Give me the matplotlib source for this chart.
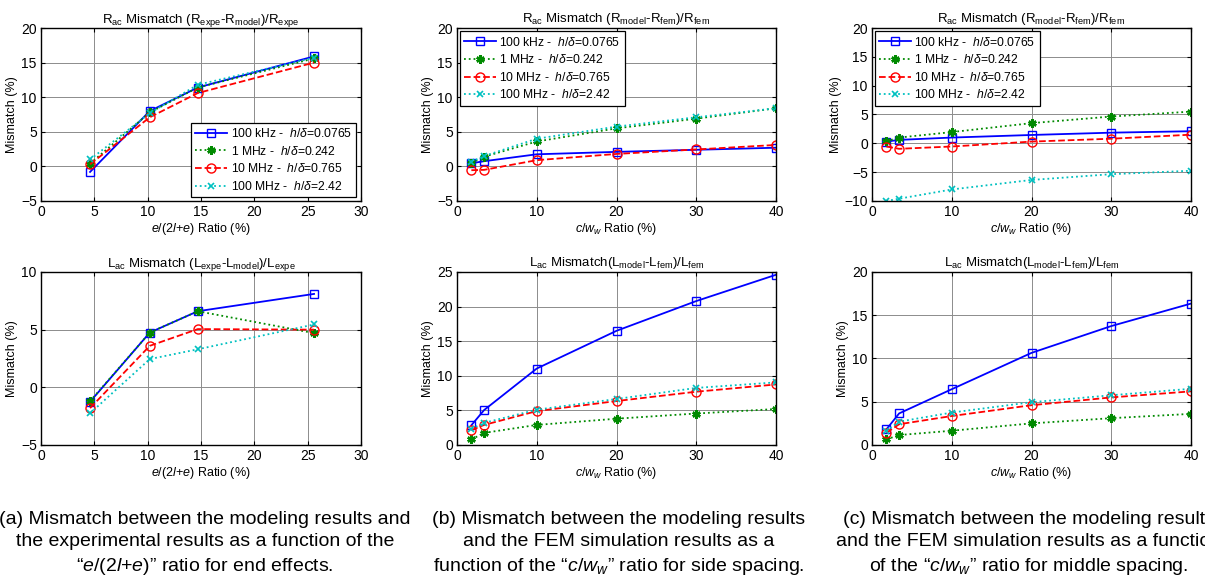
import matplotlib
matplotlib.use("Agg")
import matplotlib.pyplot as plt

plt.rcParams['font.family'] = ['Liberation Sans', 'DejaVu Sans']
plt.rcParams['mathtext.fontset'] = 'custom'
plt.rcParams['mathtext.rm'] = 'Liberation Sans'
plt.rcParams['mathtext.it'] = 'Liberation Sans:italic'
plt.rcParams['mathtext.bf'] = 'Liberation Sans:bold'
plt.rcParams['mathtext.default'] = 'regular'

# ---------------- data ----------------
series_labels = [
    "100 kHz -  $\\mathit{h/δ}$=0.0765",
    "1 MHz -  $\\mathit{h/δ}$=0.242",
    "10 MHz -  $\\mathit{h/δ}$=0.765",
    "100 MHz -  $\\mathit{h/δ}$=2.42",
]

x_end = [4.6, 10.2, 14.7, 25.6]
x_cw = [1.8, 3.4, 10, 20, 30, 40]

# (a) end effects - Rac
ra_100k = [-0.8, 8.0, 11.4, 15.9]
ra_1M = [0.4, 7.8, 11.4, 15.6]
ra_10M = [0.3, 7.1, 10.6, 15.0]
ra_100M = [1.0, 7.7, 11.8, 15.7]
# (a) end effects - Lac
la_100k = [-1.25, 4.75, 6.6, 8.1]
la_1M = [-1.2, 4.75, 6.6, 4.7]
la_10M = [-1.8, 3.6, 5.05, 5.0]
la_100M = [-2.25, 2.45, 3.3, 5.45]

# (b) side spacing - Rac
rb_100k = [0.45, 0.75, 1.75, 2.1, 2.4, 2.7]
rb_1M = [0.5, 1.4, 3.6, 5.5, 6.9, 8.4]
rb_10M = [-0.55, -0.5, 0.9, 1.8, 2.45, 3.1]
rb_100M = [0.7, 1.5, 4.0, 5.75, 7.1, 8.4]
# (b) side spacing - Lac
lb_100k = [2.85, 5.05, 11.05, 16.5, 20.8, 24.6]
lb_1M = [0.8, 1.75, 2.9, 3.8, 4.55, 5.2]
lb_10M = [2.15, 2.9, 4.9, 6.35, 7.7, 8.75]
lb_100M = [2.35, 3.2, 5.1, 6.65, 8.25, 9.05]

# (c) middle spacing - Rac
rc_100k = [0.3, 0.6, 1.0, 1.45, 1.85, 2.1]
rc_1M = [0.35, 1.0, 1.95, 3.5, 4.65, 5.5]
rc_10M = [-0.55, -0.95, -0.55, 0.3, 0.8, 1.5]
rc_100M = [-10.0, -9.6, -8.0, -6.35, -5.35, -4.75]
# (c) middle spacing - Lac
lc_100k = [1.8, 3.65, 6.45, 10.65, 13.75, 16.35]
lc_1M = [0.65, 1.15, 1.65, 2.5, 3.1, 3.6]
lc_10M = [1.4, 2.4, 3.35, 4.6, 5.5, 6.2]
lc_100M = [1.6, 2.7, 3.75, 4.95, 5.75, 6.5]

titles = [
    "R$_{ac}$ Mismatch (R$_{expe}$-R$_{model}$)/R$_{expe}$",
    "R$_{ac}$ Mismatch (R$_{model}$-R$_{fem}$)/R$_{fem}$",
    "R$_{ac}$ Mismatch (R$_{model}$-R$_{fem}$)/R$_{fem}$",
    "L$_{ac}$ Mismatch (L$_{expe}$-L$_{model}$)/L$_{expe}$",
    "L$_{ac}$ Mismatch(L$_{model}$-L$_{fem}$)/L$_{fem}$",
    "L$_{ac}$ Mismatch(L$_{model}$-L$_{fem}$)/L$_{fem}$",
]
xlabel_end = "$\\mathit{e/(2l{+}e)}$ Ratio (%)"
xlabel_cw = "$\\mathit{c/w_w}$ Ratio (%)"
ylabel = "Mismatch (%)"

captions = [
    "(a) Mismatch between the modeling results and\nthe experimental results as a function of the\n“$\\mathit{e/(2l{+}e)}$” ratio for end effects.",
    "(b) Mismatch between the modeling results\nand the FEM simulation results as a\nfunction of the “$\\mathit{c/w_w}$” ratio for side spacing.",
    "(c) Mismatch between the modeling results\nand the FEM simulation results as a function\nof the “$\\mathit{c/w_w}$” ratio for middle spacing.",
]

# ---------------- styles ----------------
styles = [
    dict(color='#0000ff', ls='-', marker='s', mfc='none', ms=5.5, mew=1.0),
    dict(color='#008a00', ls=':', marker=(6, 2, 0), ms=6, mew=1.8),
    dict(color='#ff0000', ls='--', marker='o', mfc='none', ms=6.5, mew=1.0),
    dict(color='#00c0c0', ls=':', marker='x', ms=4.5, mew=1.2),
]

W, H = 1205, 583
fig = plt.figure(figsize=(W / 100, H / 100), dpi=100)


def axrect(l, r, t, b):
    return [l / W, 1 - b / H, (r - l) / W, (b - t) / H]


rects = [
    axrect(41, 361, 28, 201), axrect(457, 776, 28, 201), axrect(872, 1191, 28, 201),
    axrect(41, 361, 272, 445), axrect(457, 776, 272, 445), axrect(872, 1191, 272, 445),
]

panels = [
    (x_end, [ra_100k, ra_1M, ra_10M, ra_100M], (0, 30), range(0, 31, 5), (-5, 20), range(-5, 21, 5), xlabel_end),
    (x_cw, [rb_100k, rb_1M, rb_10M, rb_100M], (0, 40), range(0, 41, 10), (-5, 20), range(-5, 21, 5), xlabel_cw),
    (x_cw, [rc_100k, rc_1M, rc_10M, rc_100M], (0, 40), range(0, 41, 10), (-10, 20), range(-10, 21, 5), xlabel_cw),
    (x_end, [la_100k, la_1M, la_10M, la_100M], (0, 30), range(0, 31, 5), (-5, 10), range(-5, 11, 5), xlabel_end),
    (x_cw, [lb_100k, lb_1M, lb_10M, lb_100M], (0, 40), range(0, 41, 10), (0, 25), range(0, 26, 5), xlabel_cw),
    (x_cw, [lc_100k, lc_1M, lc_10M, lc_100M], (0, 40), range(0, 41, 10), (0, 20), range(0, 21, 5), xlabel_cw),
]

legend_pos = {0: ('lower right', (0.984, 0.023)), 1: ('upper left', (0.01, 0.98)), 2: ('upper left', (0.01, 0.98))}

for i, (rect, (xs, ys_list, xlim, xt, ylim, yt, xl)) in enumerate(zip(rects, panels)):
    ax = fig.add_axes(rect)
    for ys, st, lab in zip(ys_list, styles, series_labels):
        ax.plot(xs, ys, lw=1.3, label=lab, **st)
    ax.set_xlim(*xlim)
    ax.set_ylim(*ylim)
    ax.set_xticks(list(xt))
    ax.set_yticks(list(yt))
    ax.grid(True, color='#8c8c8c', lw=0.7, ls='-')
    ax.set_axisbelow(True)
    ax.tick_params(direction='in', top=True, right=True, labelsize=10, length=3, width=0.8, pad=3)
    for sp in ax.spines.values():
        sp.set_linewidth(1.0)
    ax.set_title(titles[i], fontsize=9.5, pad=4)
    ax.set_xlabel(xl, fontsize=9, labelpad=1)
    ax.set_ylabel(ylabel, fontsize=9, labelpad=2)
    if i in legend_pos:
        loc, anchor = legend_pos[i]
        leg = ax.legend(loc=loc, bbox_to_anchor=anchor, fontsize=8.7, frameon=True, fancybox=False,
                        edgecolor='black', framealpha=1, handlelength=2.6, labelspacing=0.38,
                        borderpad=0.35, handletextpad=0.3, borderaxespad=0)
        leg.get_frame().set_linewidth(0.9)

centers = [205, 619, 1029]
for c, txt in zip(centers, captions):
    fig.text(c / W, 1 - 544 / H, txt, ha='center', va='center', ma='center', fontsize=14, linespacing=1.38)

fig.savefig("out.png", dpi=100)
